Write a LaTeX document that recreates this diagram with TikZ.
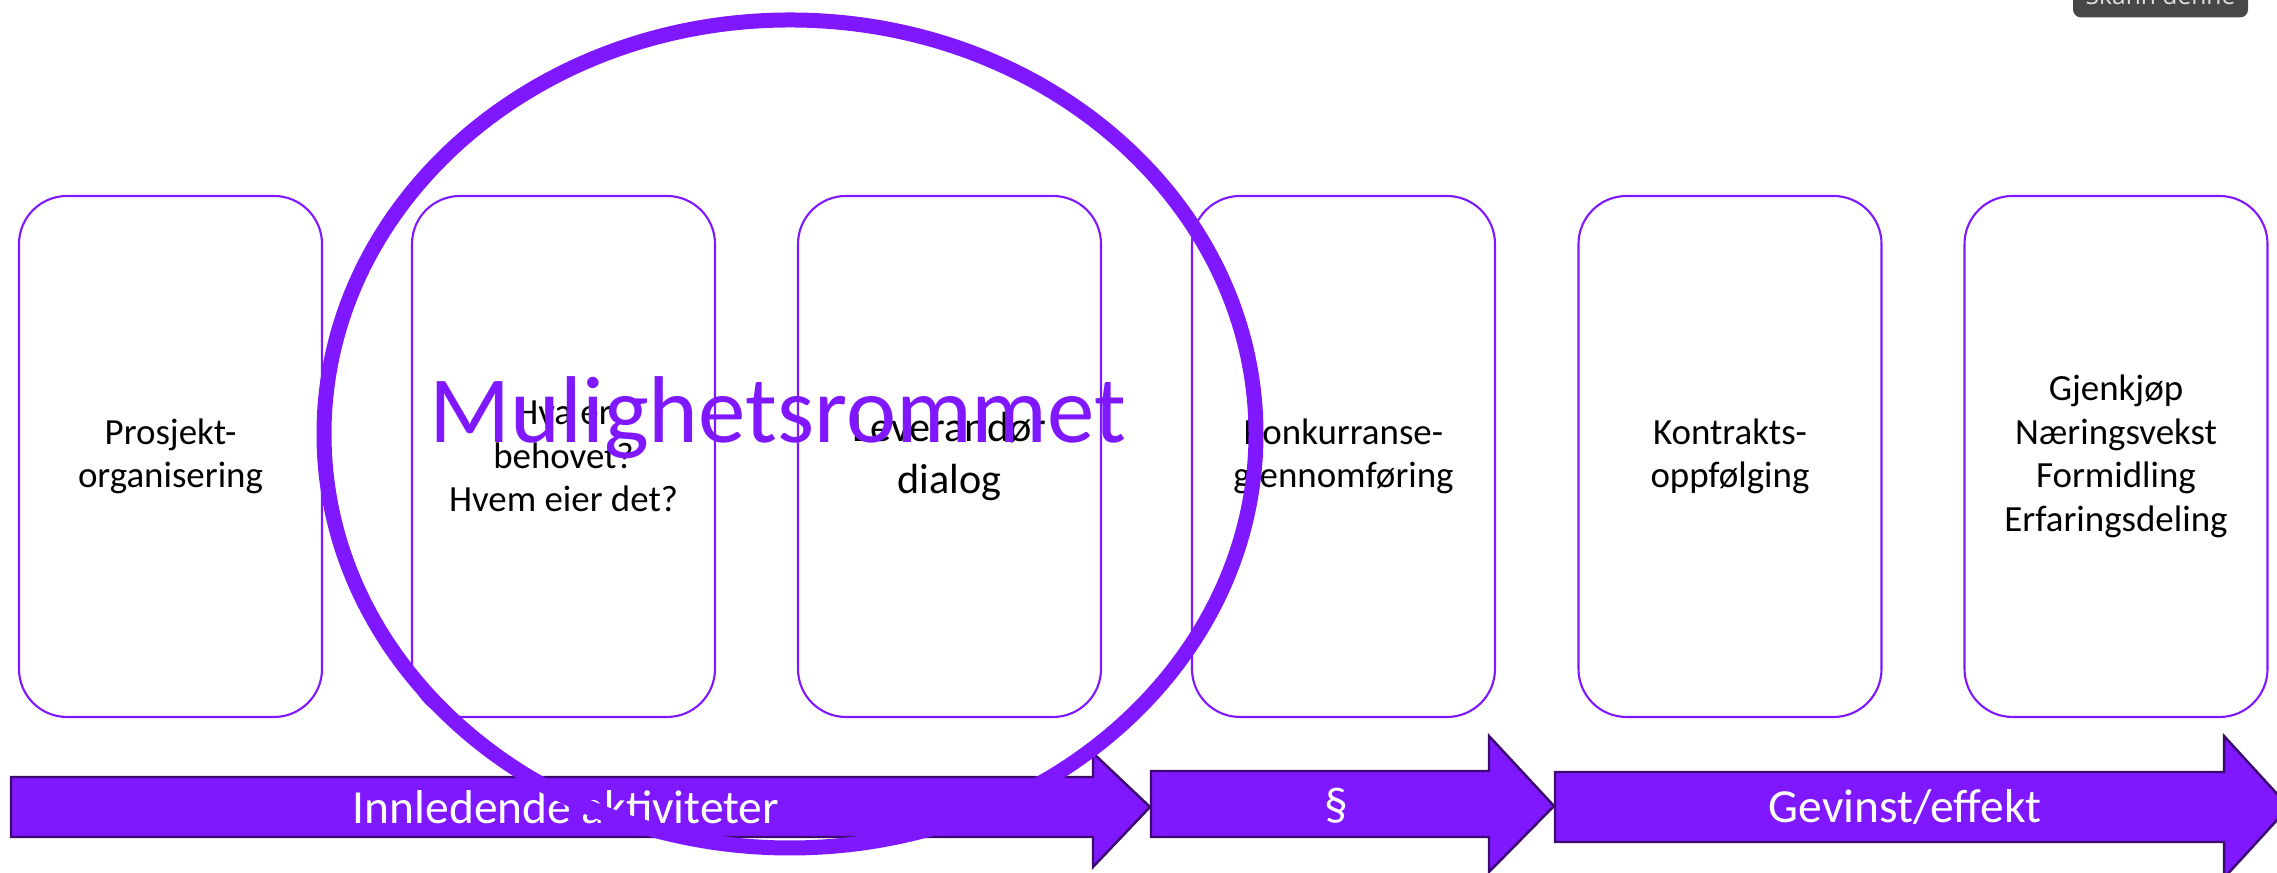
\documentclass[tikz,border=0pt]{standalone}
\usepackage{fontspec}
\setmainfont{Carlito}
\newfontfamily\uifont{Open Sans}
\usepackage{xcolor}
\usepackage{tikz}
\usetikzlibrary{positioning}
\definecolor{lilla}{RGB}{128,24,255}
\definecolor{morklilla}{RGB}{60,10,110}

\begin{document}
\begin{tikzpicture}[
    box/.style={rectangle, draw=lilla, line width=0.6pt, rounded corners=0.48cm, minimum width=3.03cm, minimum height=5.21cm, align=center, font=\fontsize{10.5}{12.4}\selectfont},
    phase/.style={draw=morklilla, line width=0.7pt, fill=lilla},
    phaselabel/.style={text=white, font=\fontsize{13.5}{16}\selectfont},
    skann/.style={fill=black!72, rounded corners=0.08cm, minimum width=1.75cm, minimum height=0.45cm, text=gray!25, font=\uifont\fontsize{7}{8}\selectfont}
]
    \useasboundingbox (0,0) rectangle (22.77,8.73);

    % Activities
    \node[box] (org) at (1.705, 4.165) {Prosjekt-\\organisering};
    \node[box] (behov) at (5.635, 4.165) {Hva er\\behovet?\\Hvem eier det?};
    \node[box, font=\fontsize{12}{14.8}\selectfont] (dialog) at (9.495, 4.165) {Leverandør\\dialog};
    \node[box] (konk) at (13.435, 4.165) {Konkurranse-\\gjennomføring};
    \node[box] (kontrakt) at (17.30, 4.165) {Kontrakts-\\oppfølging};
    \node[box] (effekt) at (21.16, 4.165) {Gjenkjøp\\Næringsvekst\\Formidling\\Erfaringsdeling};

    % Phases
    \draw[phase] (0.11,0.36) -- (0.11,0.96) -- (10.93,0.96) -- (10.93,1.20) -- (11.50,0.66) -- (10.93,0.06) -- (10.93,0.36) -- cycle;
    \draw[phase] (11.51,0.36) -- (11.51,1.02) -- (14.89,1.02) -- (14.89,1.37) -- (15.54,0.67) -- (14.89,0.01) -- (14.89,0.36) -- cycle;
    \draw[phase] (15.55,0.31) -- (15.55,1.01) -- (22.24,1.01) -- (22.24,1.37) -- (22.89,0.66) -- (22.24,-0.05) -- (22.24,0.31) -- cycle;
    \node[phaselabel] (innledende) at (5.66,0.66) {Innledende aktiviteter};
    \node[phaselabel] (paragraf) at (13.365,0.67) {§};
    \node[phaselabel] (gevinst) at (19.05,0.66) {Gevinst/effekt};

    % Mulighetsrommet
    \draw[lilla, line width=0.15cm] (7.90,4.39) ellipse [x radius=4.66, y radius=4.14];
    \node[anchor=base, text=lilla, font=\fontsize{27}{32}\selectfont] (mulig) at (7.78,4.30) {Mulighetsrommet};

    % Screen overlay
    \node[skann] (skanndenne) at (21.605,8.78) {Skann denne};
\end{tikzpicture}
\end{document}
